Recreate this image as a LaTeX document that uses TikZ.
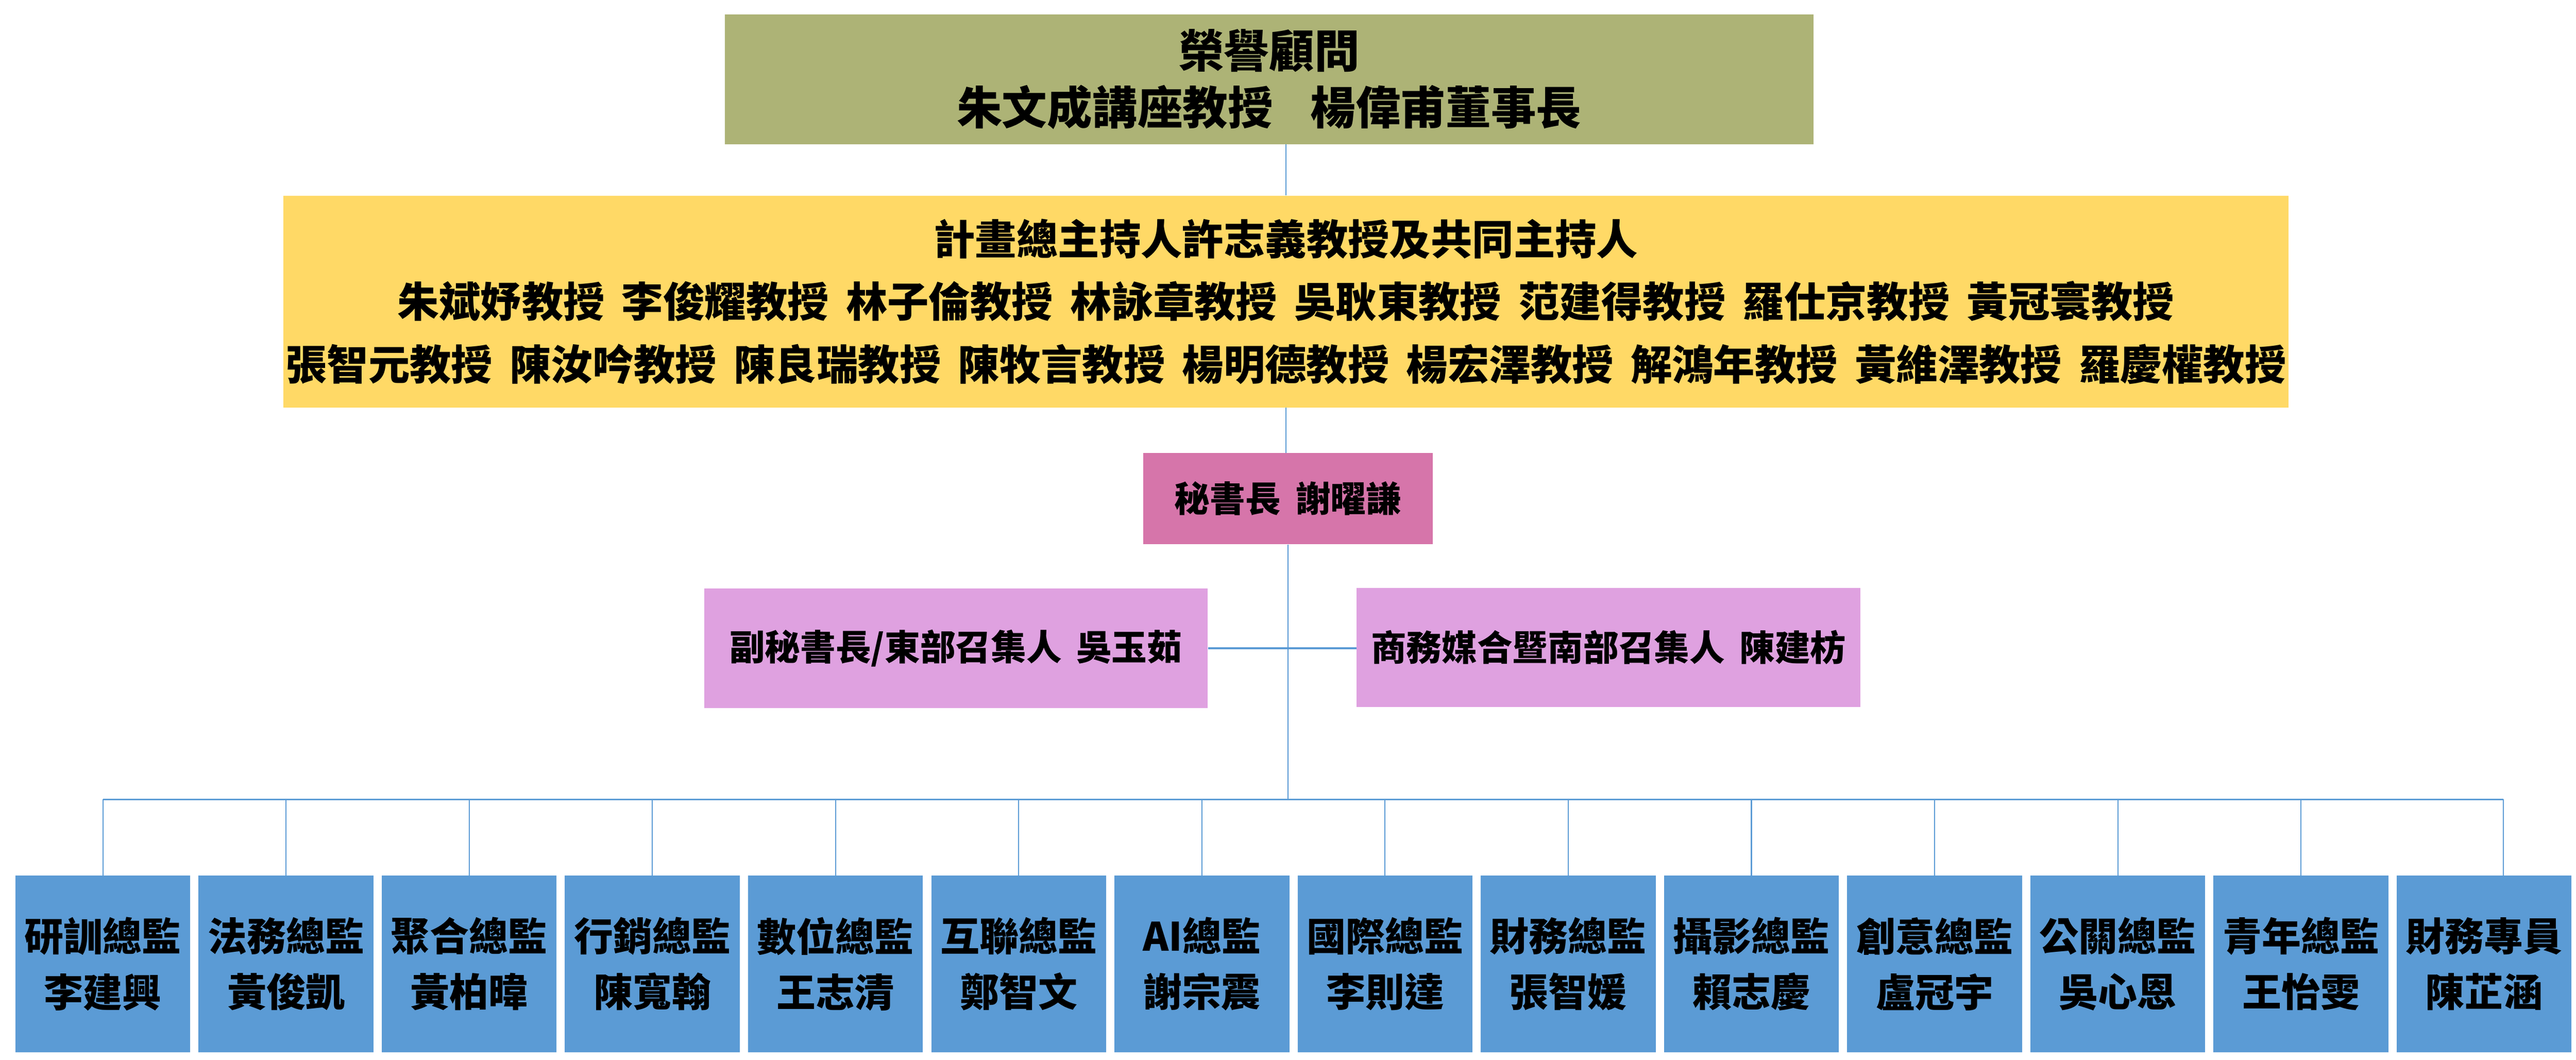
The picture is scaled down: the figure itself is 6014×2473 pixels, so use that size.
\documentclass[tikz,border=0pt]{standalone}
\usepackage{fontspec}
\setmainfont{Noto Sans CJK TC}[WordSpace=1.8]
\usetikzlibrary{positioning}
\definecolor{honourcol}{HTML}{ADB376}
\definecolor{hostcol}{HTML}{FFD966}
\definecolor{seccol}{HTML}{D675AA}
\definecolor{deputycol}{HTML}{DFA1E0}
\definecolor{staffcol}{HTML}{5B9BD5}
\tikzset{block/.style={inner sep=0pt, align=center},
  advisor/.style={block, fill=honourcol, minimum width=25.41cm, minimum height=3.03cm, font=\fontsize{30}{37.8}\selectfont\bfseries},
  host/.style={block, fill=hostcol, minimum width=46.79cm, minimum height=4.94cm, font=\fontsize{27.5}{41.5}\selectfont\bfseries},
  secretary/.style={block, fill=seccol, minimum width=6.75cm, minimum height=2.13cm, font=\fontsize{23.5}{28}\selectfont\bfseries},
  deputy/.style={block, fill=deputycol, minimum width=11.75cm, minimum height=2.78cm, font=\fontsize{23.5}{28}\selectfont\bfseries},
  director/.style={block, fill=staffcol, minimum width=4.08cm, minimum height=4.12cm, font=\fontsize{26}{37}\selectfont\bfseries},
  line/.style={draw=staffcol, line width=0.7pt},
  bus/.style={draw=staffcol, line width=1.2pt}}

\begin{document}
\begin{tikzpicture}[x=0.01cm, y=-0.01cm, node distance=0.18cm]
    \useasboundingbox (0,0) rectangle (6014,2473);

    \node[advisor]   (hon) at (2963,185)  {榮譽顧問\\朱文成講座教授~~楊偉甫董事長};
    \node[host]      (pi)  at (3002,704)  {計畫總主持人許志義教授及共同主持人\\朱斌妤教授 李俊耀教授 林子倫教授 林詠章教授 吳耿東教授 范建得教授 羅仕京教授 黃冠寰教授\\張智元教授 陳汝吟教授 陳良瑞教授 陳牧言教授 楊明德教授 楊宏澤教授 解鴻年教授 黃維澤教授 羅慶權教授};
    \node[secretary] (sec) at (3007,1164) {秘書長 謝曜謙};
    \node[deputy]    (dl)  at (2232,1513) {副秘書長/東部召集人 吳玉茹};
    \node[deputy]    (dr)  at (3755,1511) {商務媒合暨南部召集人 陳建枋};
    \coordinate      (bus) at (3004,1866);

    \node[director]                 (b1)  at (240,2250) {研訓總監\\李建興};
    \node[director,right=of b1]     (b2)  {法務總監\\黃俊凱};
    \node[director,right=of b2]     (b3)  {聚合總監\\黃柏暐};
    \node[director,right=of b3]     (b4)  {行銷總監\\陳寬翰};
    \node[director,right=of b4]     (b5)  {數位總監\\王志清};
    \node[director,right=of b5]     (b6)  {互聯總監\\鄭智文};
    \node[director,right=of b6]     (b7)  {AI總監\\謝宗震};
    \node[director,right=of b7]     (b8)  {國際總監\\李則達};
    \node[director,right=of b8]     (b9)  {財務總監\\張智媛};
    \node[director,right=of b9]     (b10) {攝影總監\\賴志慶};
    \node[director,right=of b10]    (b11) {創意總監\\盧冠宇};
    \node[director,right=of b11]    (b12) {公關總監\\吳心恩};
    \node[director,right=of b12]    (b13) {青年總監\\王怡雯};
    \node[director,right=of b13]    (b14) {財務專員\\陳芷涵};
    \coordinate[xshift=0.45cm]      (end) at (b14.north);

    \draw[line]  (hon.south -| pi.north) -- (pi.north);
    \draw[line]  (pi.south) -- (sec.north -| pi.south);
    \draw[line]  (sec.south) -- (sec.south |- bus);
    \draw[bus]   (dl.east) -- (dl.east -| dr.west);
    \draw[bus]   (b1.north |- bus) -- (end |- bus);
    \draw[line]  (b1.north |- bus) -- (b1.north);
    \draw[line]  (b2.north |- bus) -- (b2.north);
    \draw[line]  (b3.north |- bus) -- (b3.north);
    \draw[line]  (b4.north |- bus) -- (b4.north);
    \draw[line]  (b5.north |- bus) -- (b5.north);
    \draw[line]  (b6.north |- bus) -- (b6.north);
    \draw[line]  (b7.north |- bus) -- (b7.north);
    \draw[line]  (b8.north |- bus) -- (b8.north);
    \draw[line]  (b9.north |- bus) -- (b9.north);
    \draw[line]  (b10.north |- bus) -- (b10.north);
    \draw[line]  (b11.north |- bus) -- (b11.north);
    \draw[line]  (b12.north |- bus) -- (b12.north);
    \draw[line]  (b13.north |- bus) -- (b13.north);
    \draw[line]  (end |- bus) -- (end);
\end{tikzpicture}
\end{document}
